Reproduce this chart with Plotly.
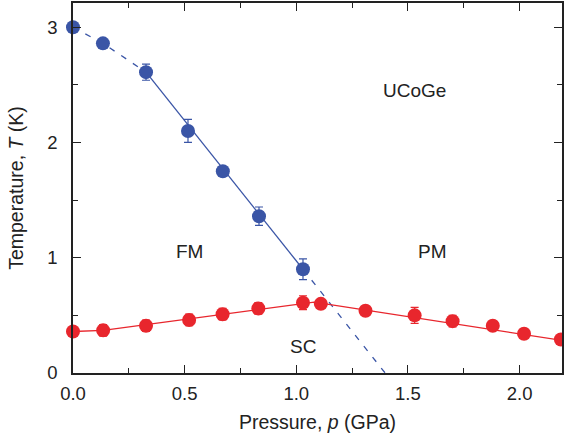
import plotly.graph_objects as go

# Data
blue_p = [0.0, 0.134, 0.327, 0.515, 0.671, 0.833, 1.03]
blue_T = [3.0, 2.86, 2.61, 2.10, 1.75, 1.36, 0.90]
blue_err = [0.02, 0.03, 0.07, 0.10, 0.04, 0.08, 0.09]

red_p = [0.0, 0.135, 0.327, 0.52, 0.67, 0.83, 1.03, 1.11, 1.31, 1.53, 1.70, 1.88, 2.02, 2.185]
red_T = [0.36, 0.37, 0.41, 0.46, 0.51, 0.56, 0.61, 0.60, 0.54, 0.50, 0.45, 0.41, 0.34, 0.29]
red_err = [0.04, 0.05, 0.05, 0.05, 0.05, 0.05, 0.06, 0.03, 0.04, 0.07, 0.05, 0.04, 0.04, 0.03]

# guide lines (fits)
blue_dash1_p = [0.0, 0.134, 0.327]
blue_dash1_T = [3.0, 2.86, 2.61]
blue_solid_p = [0.327, 1.03]
blue_solid_T = [2.61, 0.90]
blue_dash2_p = [1.03, 1.398]
blue_dash2_T = [0.90, 0.0]
red_fit_p = [0.0, 0.135, 1.08, 2.2]
red_fit_T = [0.36, 0.37, 0.615, 0.28]

labels = ["UCoGe", "FM", "PM", "SC"]
label_p = [1.53, 0.52, 1.61, 1.03]
label_T = [2.45, 1.05, 1.05, 0.23]

BLUE = "#3a55a6"
RED = "#e8262d"

fig = go.Figure()
fig.add_trace(go.Scatter(x=blue_dash1_p, y=blue_dash1_T, mode="lines",
                         line=dict(color=BLUE, width=1.3, dash="6px,8px"), hoverinfo="skip"))
fig.add_trace(go.Scatter(x=blue_solid_p, y=blue_solid_T, mode="lines",
                         line=dict(color=BLUE, width=1.3), hoverinfo="skip"))
fig.add_trace(go.Scatter(x=blue_dash2_p, y=blue_dash2_T, mode="lines",
                         line=dict(color=BLUE, width=1.3, dash="6px,8px"), hoverinfo="skip"))
fig.add_trace(go.Scatter(x=red_fit_p, y=red_fit_T, mode="lines",
                         line=dict(color=RED, width=1.3), hoverinfo="skip"))
fig.add_trace(go.Scatter(x=blue_p, y=blue_T, mode="markers",
                         marker=dict(color=BLUE, size=14),
                         error_y=dict(type="data", array=blue_err, color=BLUE, thickness=1.2, width=4),
                         cliponaxis=False))
fig.add_trace(go.Scatter(x=red_p, y=red_T, mode="markers",
                         marker=dict(color=RED, size=14),
                         error_y=dict(type="data", array=red_err, color=RED, thickness=1.2, width=4),
                         cliponaxis=False))

for t, x, y in zip(labels, label_p, label_T):
    fig.add_annotation(x=x, y=y, text=t, showarrow=False,
                       font=dict(size=19, color="#222"))

axis_common = dict(showgrid=False, zeroline=False, showline=True, linecolor="#222",
                   linewidth=1.5, mirror="ticks", ticks="inside", ticklen=8,
                   tickcolor="#222", tickwidth=1.3, automargin=False,
                   tickfont=dict(size=18.5, color="#222"))

fig.update_xaxes(range=[0, 2.19], dtick=0.5, tick0=0, tickformat=".1f",
                 minor=dict(dtick=0.25, ticks="inside", ticklen=5, tickcolor="#222", tickwidth=1.3),
                 title=dict(text="Pressure, <i>p</i> (GPa)", font=dict(size=19.5, color="#222"), standoff=12),
                 ticklabelstandoff=3,
                 **axis_common)
fig.update_yaxes(range=[0, 3.21], dtick=1, tick0=0,
                 minor=dict(dtick=0.5, ticks="inside", ticklen=5, tickcolor="#222", tickwidth=1.3),
                 title=dict(text="Temperature, <i>T</i> (K)", font=dict(size=19.5, color="#222"), standoff=18),
                 ticklabelstandoff=10,
                 **axis_common)

fig.update_layout(width=564, height=438, margin=dict(l=73, r=2, t=3, b=65),
                  plot_bgcolor="white", paper_bgcolor="white", showlegend=False,
                  font=dict(family="Liberation Sans, Arial, sans-serif"))

fig.write_html("out.html", config={"displayModeBar": False},
               post_script="document.body.style.margin='0';")
